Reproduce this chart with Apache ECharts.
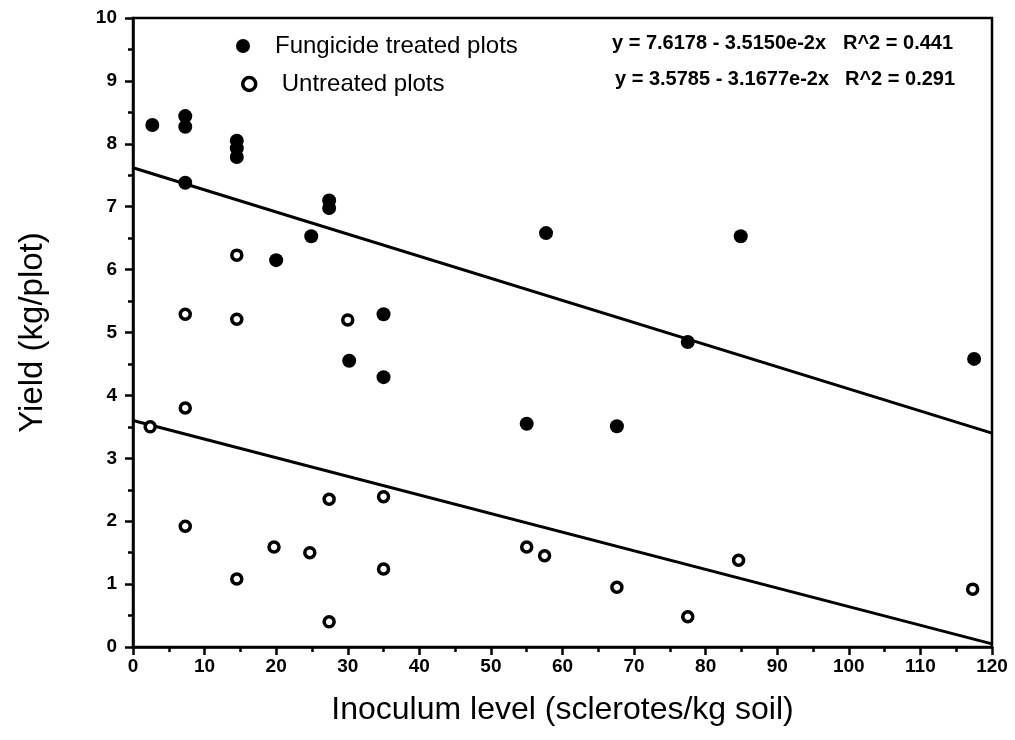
<!DOCTYPE html>
<html>
<head>
<meta charset="utf-8">
<script src="https://cdn.jsdelivr.net/npm/echarts@6/dist/echarts.min.js"></script>
<style>
html,body{margin:0;padding:0;background:#fff;}
#chart{width:1015px;height:740px;}
</style>
</head>
<body>
<div id="chart"></div>
<script>
// Data
const fungicideX = [2.7, 7.3, 7.3, 7.3, 14.5, 14.5, 14.5, 20, 24.9, 27.4, 27.4, 30.2, 35, 35, 57.7, 84.9, 77.5, 117.5, 55, 67.6];
const fungicideY = [8.30, 8.44, 8.27, 7.38, 8.05, 7.93, 7.79, 6.15, 6.53, 7.10, 6.98, 4.55, 5.29, 4.29, 6.58, 6.53, 4.85, 4.58, 3.55, 3.51];
const untreatedX = [14.5, 7.3, 14.5, 30, 7.3, 2.4, 7.3, 14.5, 19.7, 24.7, 27.4, 27.4, 35, 35, 55, 57.5, 67.6, 77.5, 84.6, 117.3];
const untreatedY = [6.23, 5.29, 5.21, 5.20, 3.80, 3.50, 1.92, 1.08, 1.59, 1.50, 2.35, 0.40, 2.39, 1.24, 1.59, 1.45, 0.95, 0.48, 1.38, 0.92];
// Regression line end points as drawn in the picture
const fungicideFitX = [0, 120];
const fungicideFitY = [7.62, 3.40];
const untreatedFitX = [0, 120];
const untreatedFitY = [3.60, 0.05];
const seriesNames = ['Fungicide treated plots', 'Untreated plots'];
const equations = [
  ['y = 7.6178 - 3.5150e-2x', 'R^2 = 0.441'],
  ['y = 3.5785 - 3.1677e-2x', 'R^2 = 0.291']
];
const xTitle = 'Inoculum level (sclerotes/kg soil)';
const yTitle = 'Yield (kg/plot)';

const zip = (xs, ys) => xs.map((x, i) => [x, ys[i]]);
const FONT = 'Liberation Sans, Arial, Helvetica, sans-serif';

const chart = echarts.init(document.getElementById('chart'), null, {renderer: 'canvas'});
const axisCommon = {
  axisLine: {show: true, lineStyle: {color: '#000', width: 2.5}},
  axisTick: {show: true, inside: false, length: 8, lineStyle: {color: '#000', width: 2.5}},
  minorTick: {show: true, splitNumber: 2, length: 5, lineStyle: {color: '#000', width: 2.5}},
  splitLine: {show: false},
  minorSplitLine: {show: false}
};
chart.setOption({
  animation: false,
  backgroundColor: '#fff',
  grid: {left: 133, right: 23, top: 18, bottom: 93, show: true, borderColor: '#000', borderWidth: 2.5, backgroundColor: 'transparent'},
  legend: [
    {
      left: 231, top: 29, padding: 5,
      itemWidth: 14, itemHeight: 14,
      textStyle: {fontFamily: FONT, fontSize: 24, color: '#000', padding: [0, 0, 0, 20]},
      data: [{name: seriesNames[0]}]
    },
    {
      left: 236, top: 67, padding: 5,
      itemWidth: 13, itemHeight: 13,
      textStyle: {fontFamily: FONT, fontSize: 24, color: '#000', padding: [0, 0, 0, 21]},
      data: [{name: seriesNames[1], itemStyle: {color: '#fff', borderColor: '#000', borderWidth: 3.5}}]
    }
  ],
  xAxis: Object.assign({
    type: 'value', min: 0, max: 120, interval: 10,
    name: xTitle, nameLocation: 'middle', nameGap: 47,
    nameTextStyle: {fontFamily: FONT, fontSize: 32, color: '#000'},
    axisLabel: {margin: 10, fontFamily: FONT, fontSize: 19, fontWeight: 'bold', color: '#000'}
  }, axisCommon),
  yAxis: Object.assign({
    type: 'value', min: 0, max: 10, interval: 1,
    name: yTitle, nameLocation: 'middle', nameGap: 84,
    nameTextStyle: {fontFamily: FONT, fontSize: 33, color: '#000'},
    axisLabel: {margin: 16, fontFamily: FONT, fontSize: 19, fontWeight: 'bold', color: '#000'}
  }, axisCommon),
  graphic: [
    {type: 'text', left: 612, top: 33, style: {text: equations[0][0], font: 'bold 20px ' + FONT, fill: '#000'}},
    {type: 'text', left: 843, top: 33, style: {text: equations[0][1], font: 'bold 20px ' + FONT, fill: '#000'}},
    {type: 'text', left: 615, top: 69, style: {text: equations[1][0], font: 'bold 20px ' + FONT, fill: '#000'}},
    {type: 'text', left: 845, top: 69, style: {text: equations[1][1], font: 'bold 20px ' + FONT, fill: '#000'}}
  ],
  series: [
    {
      name: seriesNames[0], type: 'scatter', symbol: 'circle', symbolSize: 14,
      itemStyle: {color: '#000', opacity: 1},
      data: zip(fungicideX, fungicideY), z: 3
    },
    {
      name: seriesNames[1], type: 'scatter', symbol: 'circle', symbolSize: 10,
      itemStyle: {color: '#fff', borderColor: '#000', borderWidth: 3.5, opacity: 1},
      data: zip(untreatedX, untreatedY), z: 3
    },
    {
      type: 'line', data: zip(fungicideFitX, fungicideFitY), symbol: 'none',
      lineStyle: {color: '#000', width: 3}, z: 2, silent: true
    },
    {
      type: 'line', data: zip(untreatedFitX, untreatedFitY), symbol: 'none',
      lineStyle: {color: '#000', width: 3}, z: 2, silent: true
    }
  ]
});
</script>
</body>
</html>
